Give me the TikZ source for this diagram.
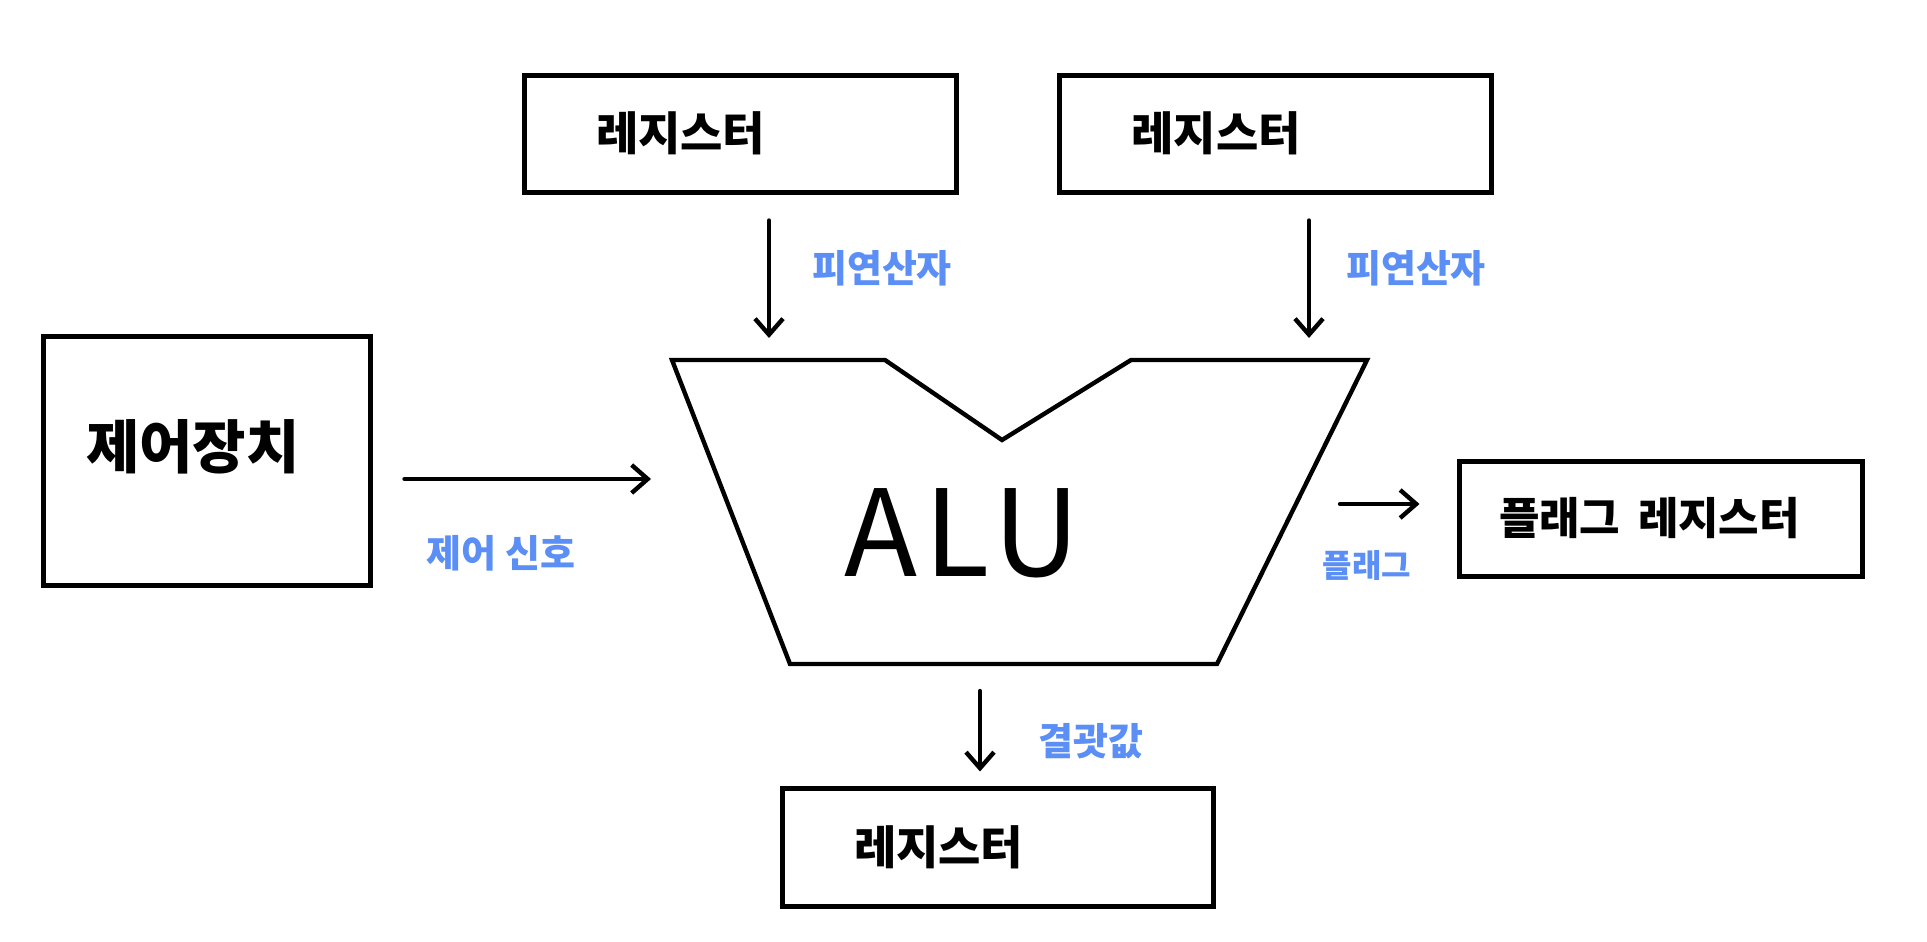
\documentclass[tikz,border=0pt]{standalone}
\usepackage{fontspec}
\newfontfamily\kr{Noto Sans CJK KR}
\usetikzlibrary{arrows.meta, positioning}
\definecolor{cblue}{HTML}{5B8FF5}
\tikzset{
  every picture/.style={line width=2.2pt},
  box/.style={draw, line width=2.5pt, align=left, inner ysep=0pt, font=\kr\bfseries\fontsize{23}{26}\selectfont},
  arrow/.style={-{Straight Barb[length=8pt, width=14pt]}, line cap=round, line width=2.2pt},
  lbl/.style={text=cblue, font=\kr\bfseries\fontsize{19}{22}\selectfont},
}
\begin{document}
\begin{tikzpicture}[x=0.5pt, y=-0.5pt]
  \useasboundingbox (0,0) rectangle (1927,942);
  % ---- boxes ----
  \node[box, text width=144pt, inner xsep=36pt, minimum height=58.5pt] (regA) at (740,133.5) {레지스터};
  \node[box, text width=144pt, inner xsep=36pt, minimum height=58.5pt] (regB) at (1275.5,133.5) {레지스터};
  \node[box, text width=120.5pt, inner xsep=21.5pt, minimum height=124.5pt, text depth=17pt, font=\kr\bfseries\fontsize{29}{32}\selectfont] (ctrl) at (206.5,460.5) {제어장치};
  \node[box, text width=161.5pt, inner xsep=20pt, minimum height=57.5pt, font=\kr\bfseries\fontsize{22}{26}\selectfont] (flag) at (1660.5,518.5) {플래그\hspace{0.4em}레지스터};
  \node[box, text width=143.5pt, inner xsep=36pt, minimum height=59pt] (res) at (997.5,847) {레지스터};
  % ---- ALU ----
  \coordinate (tl) at (672,360);
  \coordinate (va) at (885,360);
  \coordinate (vm) at (1002,440);
  \coordinate (vb) at (1131,360);
  \coordinate (tr) at (1367,360);
  \coordinate (br) at (1217,664);
  \coordinate (bl) at (790,664);
  \draw[line join=miter] (tl) -- (va) -- (vm) -- (vb) -- (tr) -- (br) -- (bl) -- cycle;
  \node[font=\kr\fontsize{60}{66}\selectfont\addfontfeature{LetterSpace=6}] (alu) at (962,533) {ALU};
  % ---- connectors ----
  \coordinate (inA) at (769,360);
  \coordinate (inB) at (1309,360);
  \coordinate (inC) at (651,479);
  \coordinate (outF) at (1340,504);
  \coordinate (outR) at (980,664);
  \draw[arrow, shorten <=13pt, shorten >=11pt] (regA.south -| inA) -- (inA);
  \draw[arrow, shorten <=13pt, shorten >=11pt] (regB.south -| inB) -- (inB);
  \draw[arrow, shorten <=16pt] (ctrl.east |- inC) -- (inC);
  \draw[arrow, shorten >=18.5pt] (outF) -- (flag.west |- outF);
  \draw[arrow, shorten <=13.5pt, shorten >=7pt] (outR) -- (outR |- res.north);
  % ---- labels ----
  \node[lbl] (opA) at (882,268) {피연산자};
  \node[lbl] (opB) at (1416,268) {피연산자};
  \node[lbl] (sig) at (501,553) {제어 신호};
  \node[lbl, font=\kr\bfseries\fontsize{16}{20}\selectfont] (flg) at (1367,565) {플래그};
  \node[lbl] (val) at (1091,741) {결괏값};
\end{tikzpicture}
\end{document}
